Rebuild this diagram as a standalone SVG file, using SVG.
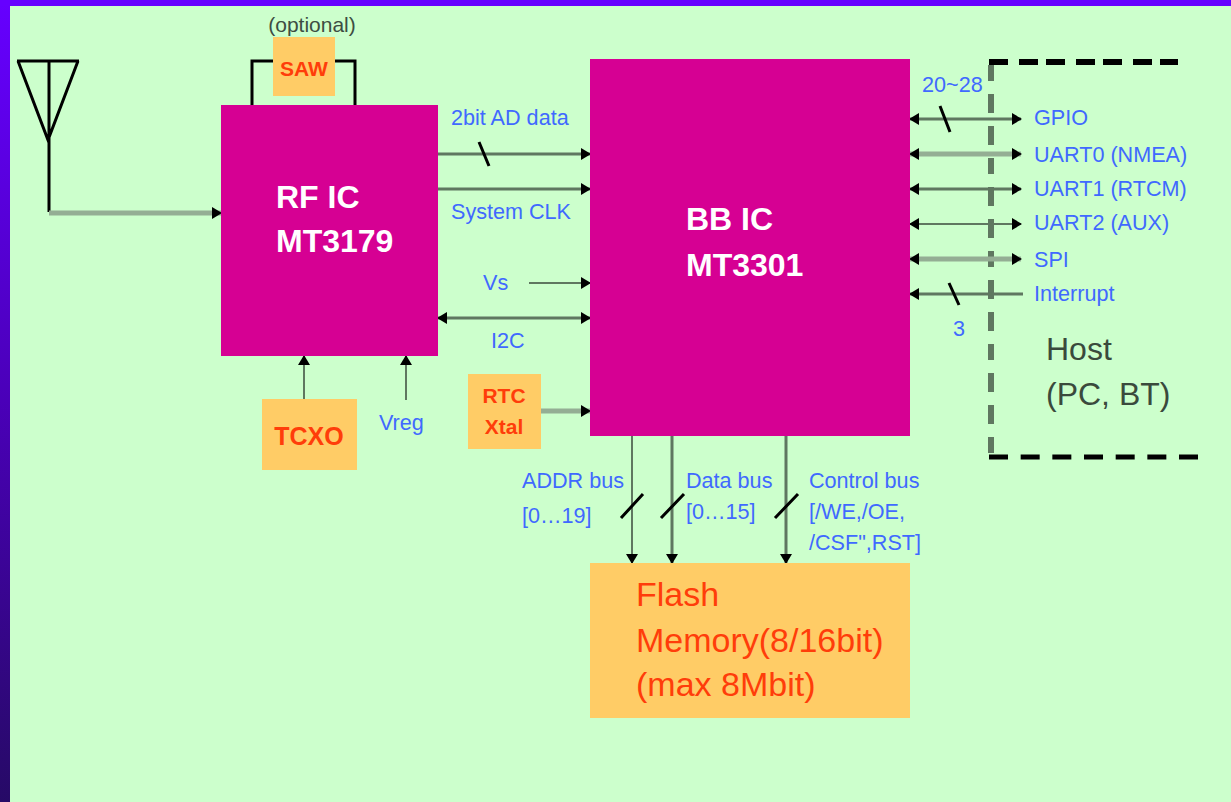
<svg xmlns="http://www.w3.org/2000/svg" width="1231" height="802" viewBox="0 0 1231 802">
<defs>
<linearGradient id="bar" x1="0" y1="0" x2="0" y2="1"><stop offset="0" stop-color="#6600ff"/><stop offset="0.5" stop-color="#4a00b8"/><stop offset="1" stop-color="#260a66"/></linearGradient>
<marker id="ah" viewBox="0 0 10 10" refX="9" refY="5" markerWidth="10" markerHeight="12" markerUnits="userSpaceOnUse" orient="auto-start-reverse" preserveAspectRatio="none"><path d="M0 0L10 5L0 10Z" fill="#000"/></marker>
</defs>
<style>
.c{fill:none;stroke:#5f7760;stroke-width:3}
.l{fill:none;stroke:#94ae94;stroke-width:5}
.t{fill:none;stroke:#5f7760;stroke-width:2}
.k{fill:none;stroke:#000;stroke-width:3}
.e{marker-end:url(#ah)}
.s{marker-start:url(#ah)}
text{font-family:"Liberation Sans",Arial,sans-serif}
.b{fill:#4069ff;font-size:21.6px}
.w{fill:#fff;font-weight:bold;font-size:32px}
.o{fill:#ff3d0a;font-weight:bold}
.f{fill:#ff3d0a;font-size:34px}
.h{fill:#3a4a3c;font-size:32px}
</style>
<rect width="1231" height="802" fill="#ccffcc"/>
<rect x="0" y="0" width="10" height="802" fill="url(#bar)"/>
<rect x="0" y="0" width="1231" height="6" fill="#6600ff"/>
<g id="connectors">
<path class="k" d="M17 61H79M49 61V212M18 61L48 140L78 61"/>
<path class="k" d="M252 105V61H276M355 105V61H332"/>
<path class="l e" d="M49 213H221"/>
<path class="c e" d="M438 154H590"/>
<path class="c e" d="M438 189H590"/>
<path class="t e" d="M529 283H590"/>
<path class="c e s" d="M438 318H590"/>
<path class="t e" d="M304 399V356"/>
<path class="t e" d="M406 400V356"/>
<path class="l e" d="M541 411H590"/>
<path class="t e" d="M632 434V563"/>
<path class="c e" d="M672 434V563"/>
<path class="c e" d="M786 434V563"/>
<path d="M991 65V458" fill="none" stroke="#5f7760" stroke-width="6" stroke-dasharray="16 13 19 13 19 13"/>
<path class="c e s" d="M910 119H1021"/>
<path class="l e s" d="M910 154H1021"/>
<path class="c e s" d="M910 189H1021"/>
<path class="t e s" d="M910 224H1021"/>
<path class="l e s" d="M910 259H1021"/>
<path class="c s" d="M910 294H1023"/>
<path class="k" d="M479 142L489 166M940 106L950 132M949 283L959 305M621 518L643 494M661 518L684 494M775 518L798 494"/>
<path d="M989 62H1178" fill="none" stroke="#000" stroke-width="6" stroke-dasharray="19 11 19 8 19 11 19 8 19 11 19 8 19"/>
<path d="M989 457H1198" fill="none" stroke="#000" stroke-width="5" stroke-dasharray="19 12.67"/>
<rect x="907" y="399" width="2" height="2" fill="#000"/>
</g>
<g id="saw"><rect x="273" y="37" width="62" height="59" fill="#ffcc66"/><text class="o" x="304" y="76" text-anchor="middle" font-size="21">SAW</text></g>
<text x="312" y="32" text-anchor="middle" font-size="21" fill="#3d4d42">(optional)</text>
<g id="rfic"><rect x="221" y="105" width="217" height="251" fill="#d60093"/><text class="w" x="276" y="208">RF IC</text><text class="w" x="276" y="252">MT3179</text></g>
<g id="bbic"><rect x="590" y="59" width="320" height="377" fill="#d60093"/><text class="w" x="686" y="230">BB IC</text><text class="w" x="686" y="276">MT3301</text></g>
<g id="tcxo"><rect x="262" y="399" width="95" height="71" fill="#ffcc66"/><text class="o" x="309" y="445" text-anchor="middle" font-size="25">TCXO</text></g>
<g id="rtc"><rect x="468" y="374" width="73" height="75" fill="#ffcc66"/><text class="o" x="504" y="403" text-anchor="middle" font-size="21">RTC</text><text class="o" x="504" y="434" text-anchor="middle" font-size="21">Xtal</text></g>
<g id="flash"><rect x="590" y="563" width="320" height="155" fill="#ffcc66"/><text class="f" x="636" y="606">Flash</text><text class="f" x="636" y="652">Memory(8/16bit)</text><text class="f" x="636" y="696">(max 8Mbit)</text></g>
<g id="labels">
<text class="b" x="451" y="125">2bit AD data</text>
<text class="b" x="451" y="219">System CLK</text>
<text class="b" x="483" y="290">Vs</text>
<text class="b" x="491" y="348">I2C</text>
<text class="b" x="379" y="430">Vreg</text>
<text class="b" x="522" y="488">ADDR bus</text>
<text class="b" x="522" y="523">[0…19]</text>
<text class="b" x="686" y="488">Data bus</text>
<text class="b" x="686" y="519">[0…15]</text>
<text class="b" x="809" y="488">Control bus</text>
<text class="b" x="809" y="519">[/WE,/OE,</text>
<text class="b" x="809" y="550">/CSF",RST]</text>
<text class="b" x="922" y="92">20~28</text>
<text class="b" x="1034" y="125">GPIO</text>
<text class="b" x="1034" y="162">UART0 (NMEA)</text>
<text class="b" x="1034" y="196">UART1 (RTCM)</text>
<text class="b" x="1034" y="230">UART2 (AUX)</text>
<text class="b" x="1034" y="267">SPI</text>
<text class="b" x="1034" y="301">Interrupt</text>
<text class="b" x="953" y="336">3</text>
</g>
<g id="host"><text class="h" x="1046" y="360">Host</text><text class="h" x="1046" y="405">(PC, BT)</text></g>
</svg>
